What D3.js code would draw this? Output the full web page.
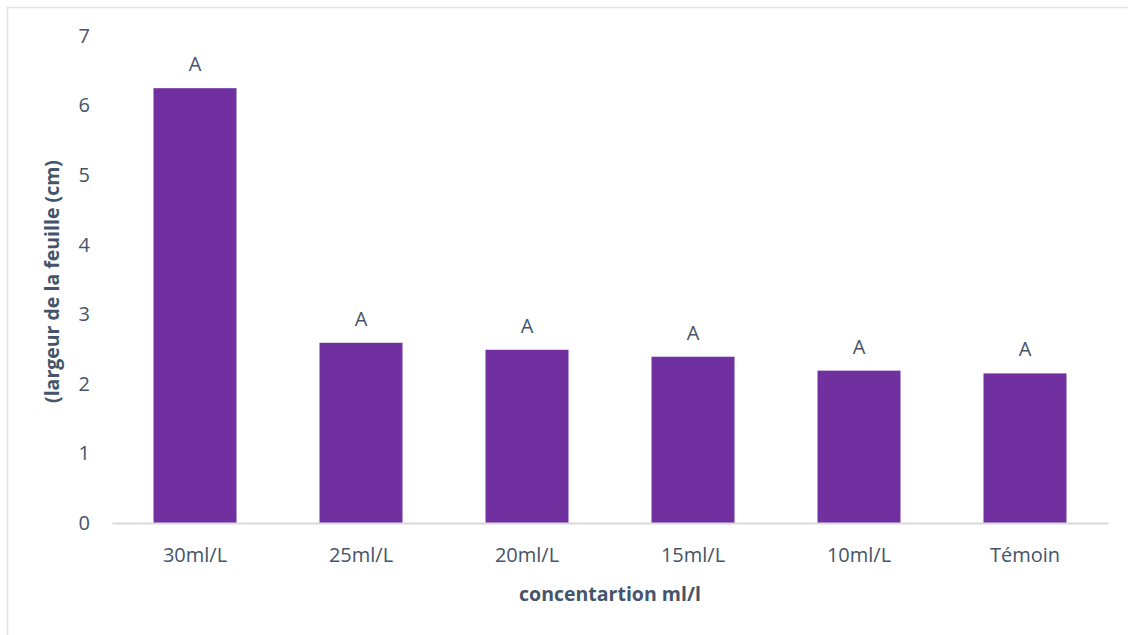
<!DOCTYPE html>
<html><head><meta charset="utf-8">
<script src="https://cdn.jsdelivr.net/npm/d3@7"></script>
<style>body{margin:0;background:#fff;} svg{display:block;}</style>
</head><body>
<svg id="c" width="1128" height="635"></svg>
<script>
const categories = ["30ml/L","25ml/L","20ml/L","15ml/L","10ml/L","Témoin"];
const values = [6.25, 2.59, 2.49, 2.39, 2.19, 2.15];
const letters = ["A","A","A","A","A","A"];
const yTicks = [0,1,2,3,4,5,6,7];
const xTitle = "concentartion ml/l";
const yTitle = "(largeur de la feuille (cm)";

const svg = d3.select("#c");
const font = "'Open Sans', 'Noto Sans', sans-serif";
const txt = "#44546a";
const margin = {left:112, right:1108, top:36, bottom:523};

svg.append("rect").attr("x",7.5).attr("y",7.5).attr("width",1130).attr("height",640)
  .attr("fill","#fff").attr("stroke","#dfe3e8").attr("stroke-width",1.5);

const x = d3.scaleBand().domain(categories).range([margin.left, margin.right])
  .paddingInner(0.5).paddingOuter(0.25);
const y = d3.scaleLinear().domain([0,7]).range([margin.bottom, margin.top]);

// bars
svg.append("g").selectAll("rect").data(values).join("rect")
  .attr("x",(d,i)=>x(categories[i])).attr("width",x.bandwidth())
  .attr("y",d=>y(d)).attr("height",d=>y(0)-y(d)).attr("fill","#7030a0");

// x axis line
const xAxis = svg.append("g").attr("transform",`translate(0,${y(0)})`)
  .call(d3.axisBottom(x).tickSize(0).tickPadding(25));
xAxis.select(".domain").attr("stroke","#d9d9d9").attr("stroke-width",2);
xAxis.selectAll("text").attr("fill",txt).style("font-family",font).style("font-size","20px");

// y axis
const yAxis = svg.append("g").attr("transform",`translate(90,0)`)
  .call(d3.axisLeft(y).tickValues(yTicks).tickFormat(d3.format("d")).tickSize(0).tickPadding(0));
yAxis.select(".domain").remove();
yAxis.selectAll("text").attr("fill",txt).style("font-family",font).style("font-size","20px");

// letters
svg.append("g").selectAll("text").data(values).join("text")
  .attr("x",(d,i)=>x(categories[i])+x.bandwidth()/2)
  .attr("y",d=>y(d)-17)
  .attr("text-anchor","middle").attr("fill",txt)
  .style("font-family",font).style("font-size","20px")
  .text((d,i)=>letters[i]);

// titles
svg.append("text").attr("x",610).attr("y",601).attr("text-anchor","middle")
  .attr("fill",txt).style("font-family",font).style("font-size","19.5px").style("font-weight","bold")
  .text(xTitle);
svg.append("text").attr("transform",`translate(59,${(margin.top+margin.bottom)/2 + 2}) rotate(-90)`)
  .attr("text-anchor","middle").attr("fill",txt)
  .style("font-family",font).style("font-size","19.5px").style("font-weight","bold")
  .text(yTitle);
</script>
</body></html>
